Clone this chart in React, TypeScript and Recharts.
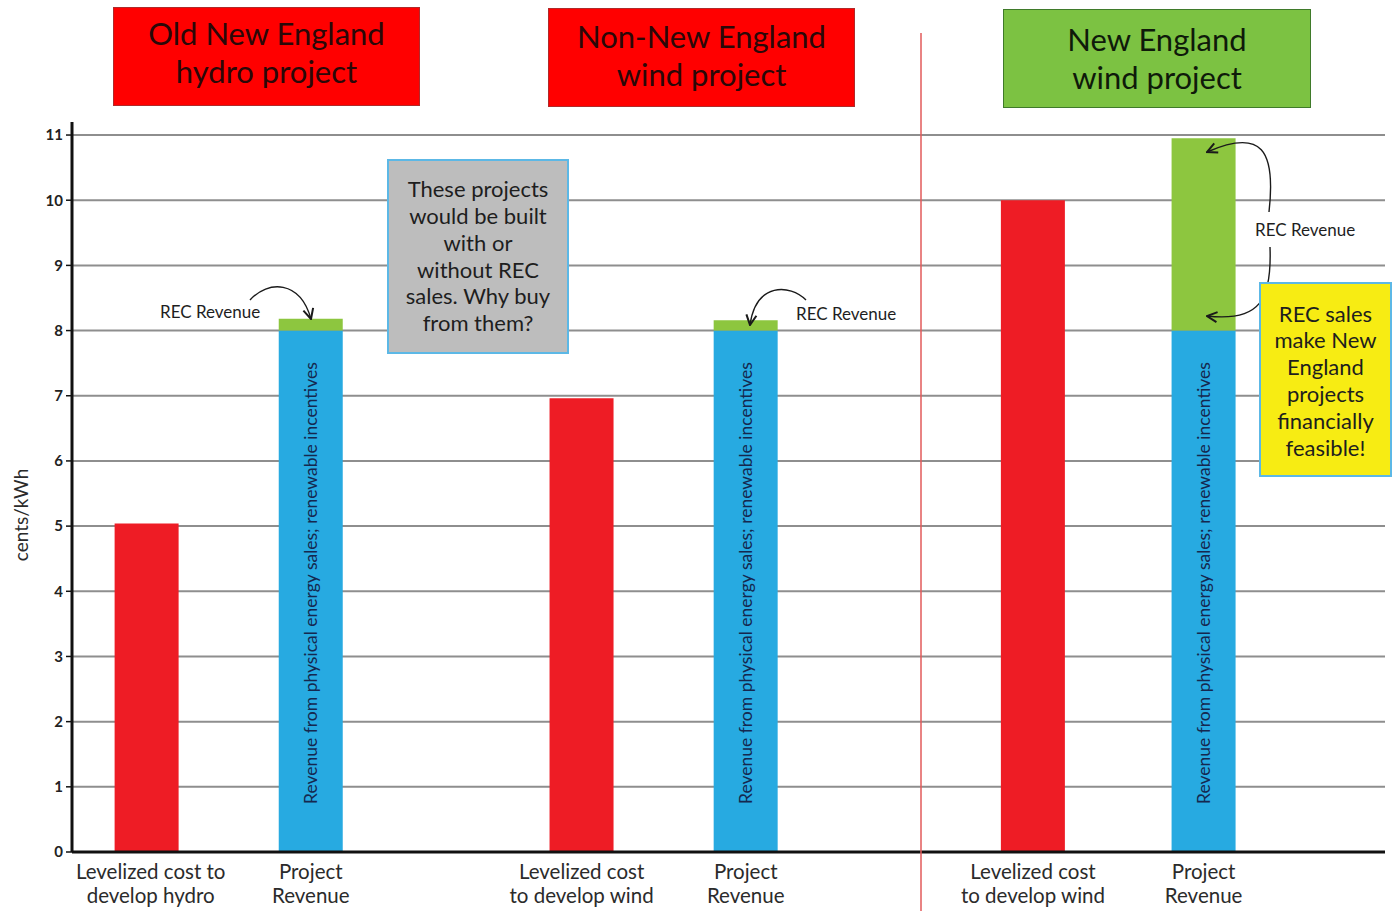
import React from "react";
import { Bar, BarChart, CartesianGrid, LabelList, XAxis, YAxis } from "recharts";

// x slot of each column on the numeric category axis (0..16)
const slots = [0.91, 2.91, 6.21, 8.21, 11.71, 13.79];
const categoryLines = [
  ["Levelized cost to", "develop hydro"],
  ["Project", "Revenue"],
  ["Levelized cost", "to develop wind"],
  ["Project", "Revenue"],
  ["Levelized cost", "to develop wind"],
  ["Project", "Revenue"]
];
const costValues = [5.04, null, 6.96, null, 10, null];
const energyRevenue = [null, 8, null, 8, null, 8];
const recRevenue = [null, 0.18, null, 0.16, null, 2.95];
const yTicks = [0, 1, 2, 3, 4, 5, 6, 7, 8, 9, 10, 11];

const data = slots.map((slot, i) => ({
  slot,
  cost: costValues[i],
  energy: energyRevenue[i],
  rec: recRevenue[i]
}));

const FONT = "Lato, 'Open Sans', sans-serif";
const INK = "#2b2b2b";

function CategoryTick({ x, y, payload }: any) {
  const idx = slots.indexOf(payload.value);
  const lines = categoryLines[idx] ?? [];
  const cx = idx === 0 ? x + 4 : x;
  return (
    <text x={cx} y={y} textAnchor="middle" fill={INK} fontFamily={FONT} fontSize={20.5}>
      {lines.map((line, i) => (
        <tspan key={i} x={cx} dy={i === 0 ? 19 : 24}>
          {line}
        </tspan>
      ))}
    </text>
  );
}

function UnitLabel({ viewBox }: any) {
  const x = 20;
  const y = viewBox.y + viewBox.height / 2 + 28;
  return (
    <text
      x={x}
      y={y}
      transform={`rotate(-90 ${x} ${y})`}
      textAnchor="middle"
      dominantBaseline="central"
      fill={INK}
      fontFamily={FONT}
      fontSize={19}
    >
      cents/kWh
    </text>
  );
}

function EnergyLabel({ x, y, width, height }: any) {
  if (!height) return null;
  const cx = x + width / 2;
  const by = y + height - 48;
  return (
    <text
      x={cx}
      y={by}
      transform={`rotate(-90 ${cx} ${by})`}
      textAnchor="start"
      dominantBaseline="central"
      fill="#15284f"
      fontFamily={FONT}
      fontSize={17.5}
    >
      Revenue from physical energy sales; renewable incentives
    </text>
  );
}

const titleBox = (bg: string, border: string, lift: number): React.CSSProperties => ({
  position: "absolute",
  background: bg,
  border: `1.5px solid ${border}`,
  boxSizing: "border-box",
  display: "flex",
  alignItems: "center",
  justifyContent: "center",
  textAlign: "center",
  paddingBottom: lift,
  fontFamily: FONT,
  fontSize: 31,
  lineHeight: "38px",
  color: "#2a0808"
});

const noteBox = (bg: string): React.CSSProperties => ({
  position: "absolute",
  background: bg,
  border: "2px solid #5cb8e6",
  boxSizing: "border-box",
  display: "flex",
  alignItems: "center",
  justifyContent: "center",
  textAlign: "center",
  fontFamily: FONT,
  fontSize: 22,
  lineHeight: "26.8px",
  color: "#1e1e1e"
});

export default function App() {
  return (
    <div style={{ position: "absolute", left: 0, top: 0, width: 1396, height: 911, background: "#fff", overflow: "hidden" }}>
      <BarChart
        width={1396}
        height={911}
        data={data}
        margin={{ top: 122, right: 11, bottom: 0, left: 0 }}
      >
        <CartesianGrid
          horizontal
          vertical={false}
          horizontalValues={yTicks}
          stroke="#8e8e8e"
          strokeWidth={2}
        />
        <XAxis
          type="number"
          dataKey="slot"
          domain={[0, 16]}
          ticks={slots}
          interval={0}
          height={59}
          tick={<CategoryTick />}
          tickLine={false}
          axisLine={{ stroke: "#111", strokeWidth: 3 }}
        />
        <YAxis
          type="number"
          domain={[0, 11.2]}
          ticks={yTicks}
          interval={0}
          width={72}
          tickSize={6}
          tickMargin={3}
          tickLine={{ stroke: "#111", strokeWidth: 1.5 }}
          axisLine={{ stroke: "#111", strokeWidth: 3 }}
          tick={{ fill: "#222", fontSize: 15, fontWeight: 700, fontFamily: FONT }}
          label={{ content: <UnitLabel /> }}
        />
        <Bar dataKey="cost" stackId="s" barSize={64} fill="#ee1c25" isAnimationActive={false} />
        <Bar dataKey="energy" stackId="s" barSize={64} fill="#27aae1" isAnimationActive={false}>
          <LabelList dataKey="energy" content={<EnergyLabel />} />
        </Bar>
        <Bar dataKey="rec" stackId="s" barSize={64} fill="#8dc63f" isAnimationActive={false} />
      </BarChart>

      <svg
        width={1396}
        height={911}
        style={{ position: "absolute", left: 0, top: 0, pointerEvents: "none" }}
      >
        <defs>
          <marker id="chev" viewBox="0 0 10 10" refX="9" refY="5" markerWidth="9" markerHeight="9" orient="auto">
            <path d="M1,1 L9,5 L1,9" fill="none" stroke="#1a1a1a" strokeWidth="1.6" />
          </marker>
        </defs>
        <line x1={921} y1={33} x2={921} y2={911} stroke="#e25a5a" strokeWidth={1.5} />
        <g fill="none" stroke="#1a1a1a" strokeWidth={1.4} markerEnd="url(#chev)">
          <path d="M250,300 C268,280 300,280 311,319" />
          <path d="M806,300 C790,284 756,282 750,325" />
          <path d="M1269,212 C1276,150 1262,128 1207,152" />
          <path d="M1270,247 C1272,300 1260,322 1207,316" />
        </g>
        <g fontFamily={FONT} fontSize={17} fill="#1e1e1e">
          <text x={160} y={318}>REC Revenue</text>
          <text x={796} y={320}>REC Revenue</text>
          <text x={1255} y={236}>REC Revenue</text>
        </g>
      </svg>

      <div style={{ ...titleBox("#ff0000", "#b02a2a", 9), left: 113, top: 7, width: 307, height: 99 }}>
        Old New England
        <br />
        hydro project
      </div>
      <div style={{ ...titleBox("#ff0000", "#b02a2a", 6), left: 548, top: 8, width: 307, height: 99 }}>
        Non-New England
        <br />
        wind project
      </div>
      <div style={{ ...titleBox("#7cc242", "#3f7a2a", 2), left: 1003, top: 9, width: 308, height: 99, color: "#0f1a0a" }}>
        New England
        <br />
        wind project
      </div>

      <div style={{ ...noteBox("#bdbdbd"), left: 387, top: 159, width: 182, height: 195 }}>
        These projects
        <br />
        would be built
        <br />
        with or
        <br />
        without REC
        <br />
        sales. Why buy
        <br />
        from them?
      </div>
      <div style={{ ...noteBox("#f7ec13"), left: 1259, top: 282, width: 133, height: 195, paddingTop: 3 }}>
        REC sales
        <br />
        make New
        <br />
        England
        <br />
        projects
        <br />
        financially
        <br />
        feasible!
      </div>
    </div>
  );
}
